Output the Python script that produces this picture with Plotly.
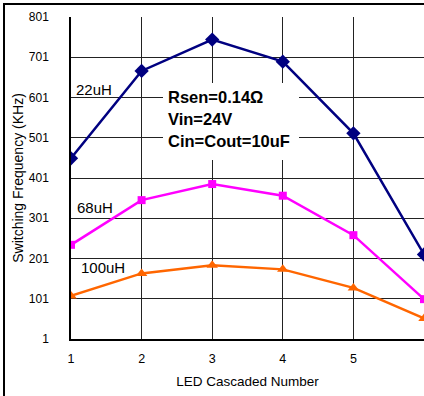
import plotly.graph_objects as go

leds = [1, 2, 3, 4, 5, 6]
f_22uH = [450, 667, 745, 690, 512, 211]
f_68uH = [235, 346, 386, 357, 259, 100]
f_100uH = [108, 164, 184, 174, 128, 52]
y_ticks = [1, 101, 201, 301, 401, 501, 601, 701, 801]

W, H = 424, 396
ML, MT = 5, 5            # page margin that leaves room for the outer frame
AW, AH = W - ML, H - MT  # size of the plotting region

def px(x):
    return (x - ML) / AW

def py(y):
    return (H - y) / AH

# plot area in pixels: x 71..424, y 17..339
xdom = [px(71), 1.0]
ydom = [py(339), py(17)]

fig = go.Figure()
# empty trace that owns the frame axes (drawn first, underneath)
fig.add_trace(go.Scatter(x=[], y=[], xaxis="x2", yaxis="y2", showlegend=False, hoverinfo="skip"))
fig.add_trace(go.Scatter(x=leds, y=f_22uH, mode="lines+markers", name="22uH",
                         line=dict(color="#000080", width=2.5),
                         marker=dict(symbol="diamond", size=11, color="#000080")))
fig.add_trace(go.Scatter(x=leds, y=f_68uH, mode="lines+markers", name="68uH",
                         line=dict(color="#FF00FF", width=2.5),
                         marker=dict(symbol="square", size=8, color="#FF00FF")))
fig.add_trace(go.Scatter(x=leds, y=f_100uH, mode="lines+markers", name="100uH",
                         line=dict(color="#FF6600", width=2.5),
                         marker=dict(symbol="triangle-up", size=10, color="#FF6600")))

font = "Arial, Liberation Sans, sans-serif"
fig.update_layout(
    width=W, height=H,
    margin=dict(l=ML, r=0, t=MT, b=0, autoexpand=False),
    paper_bgcolor="white", plot_bgcolor="rgba(0,0,0,0)",
    showlegend=False,
    font=dict(family=font, size=12, color="black"),
    xaxis=dict(domain=xdom, anchor="y", range=[1, 6], tickvals=leds, showgrid=True,
               gridcolor="#222222", gridwidth=1,
               showline=True, linecolor="black", linewidth=2, ticks="", zeroline=False,
               tickfont=dict(size=12.5), ticklabelstandoff=7,
               title=dict(text="LED Cascaded Number", font=dict(size=13.5), standoff=12)),
    yaxis=dict(domain=ydom, anchor="x", range=[1, 801], tickvals=y_ticks, showgrid=True,
               gridcolor="#222222", gridwidth=1,
               showline=True, linecolor="black", linewidth=1.5, ticks="", zeroline=False,
               tickfont=dict(size=12), ticklabelstandoff=18,
               title=dict(text="Switching Frequency (KHz)", font=dict(size=14), standoff=2)),
    xaxis2=dict(domain=[0, 1], anchor="y2", side="top", range=[0, 1], showline=True,
                linecolor="black", linewidth=1.5, showgrid=False, zeroline=False,
                showticklabels=False, ticks="", fixedrange=True),
    yaxis2=dict(domain=[0, 1], anchor="x2", side="left", range=[0, 1], showline=True,
                linecolor="black", linewidth=1.5, showgrid=False, zeroline=False,
                showticklabels=False, ticks="", fixedrange=True),
)

# white text box covering the grid
fig.add_shape(type="rect", xref="paper", yref="paper",
              x0=px(163), x1=px(299), y0=py(160), y1=py(83),
              line=dict(width=0), fillcolor="white", layer="above")

for txt, yy in [("Rsen=0.14Ω", 97), ("Vin=24V", 119), ("Cin=Cout=10uF", 141)]:
    fig.add_annotation(xref="paper", yref="paper", x=px(166), y=py(yy),
                       text="<b>" + txt + "</b>", showarrow=False, xanchor="left", yanchor="middle",
                       font=dict(size=16.5, family=font))

for txt, xx, yy in [("22uH", 74, 89), ("68uH", 75, 207), ("100uH", 79, 268)]:
    fig.add_annotation(xref="paper", yref="paper", x=px(xx), y=py(yy), text=txt,
                       showarrow=False, xanchor="left", yanchor="middle",
                       font=dict(size=15, family=font))

fig.write_html("out.html", config={"displayModeBar": False},
               post_script="document.body.style.margin='0px';")
